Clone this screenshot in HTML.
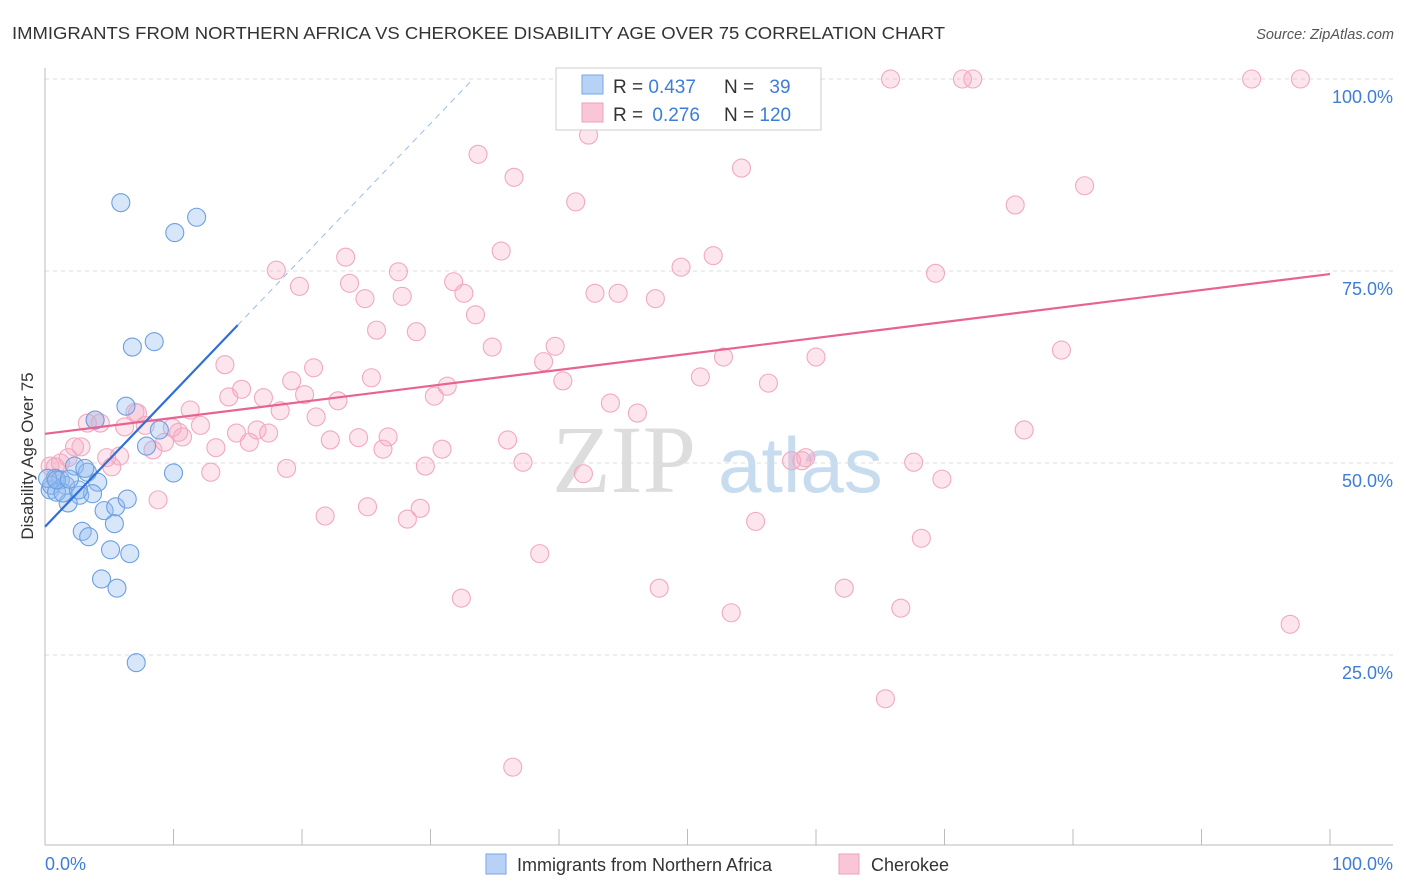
<!DOCTYPE html>
<html><head><meta charset="utf-8"><style>
body{margin:0;background:#fff;font-family:"Liberation Sans",sans-serif;}
svg{display:block}
</style></head><body>
<svg id="chart" width="1406" height="892">
<text x="12" y="39" font-size="17.5" fill="#333" textLength="933" lengthAdjust="spacingAndGlyphs">IMMIGRANTS FROM NORTHERN AFRICA VS CHEROKEE DISABILITY AGE OVER 75 CORRELATION CHART</text>
<text x="1394" y="39" font-size="14.5" fill="#555" font-style="italic" text-anchor="end">Source: ZipAtlas.com</text>
<g>
<text x="552" y="492" font-size="96" font-family="Liberation Serif,serif" fill="#ddd">ZIP</text>
<text x="718" y="492" font-size="78" fill="#c8dcf0">atlas</text>
</g>
<g id="grid"></g>
<g id="axes"></g>
<g id="pts"></g>
<g id="trend"></g>
<text x="33" y="456" font-size="17" fill="#333" text-anchor="middle" transform="rotate(-90 33 456)">Disability Age Over 75</text>
<text x="45" y="870" font-size="18" fill="#3d7dd8">0.0%</text>
<text x="1393" y="870" font-size="18" fill="#3d7dd8" text-anchor="end">100.0%</text>
<g>
<rect x="556" y="68" width="265" height="62" fill="#fff" stroke="#ccc"/>
<rect x="582" y="75" width="21" height="19" fill="#b8d2f5" stroke="#7aa6e6"/>
<rect x="582" y="103" width="21" height="19" fill="#f9c6d6" stroke="#f0a0bb"/>
<text x="613" y="93" font-size="19" fill="#333">R = <tspan fill="#3d7dd8">0.437</tspan></text>
<text x="724" y="93" font-size="19" fill="#333">N = <tspan fill="#3d7dd8" dx="10">39</tspan></text>
<text x="613" y="121" font-size="19" fill="#333">R = <tspan fill="#3d7dd8" dx="4">0.276</tspan></text>
<text x="724" y="121" font-size="19" fill="#333">N = <tspan fill="#3d7dd8">120</tspan></text>
</g>
<g>
<rect x="486" y="854" width="20" height="20" fill="#b8d2f5" stroke="#7aa6e6"/>
<text x="517" y="871" font-size="18" fill="#333">Immigrants from Northern Africa</text>
<rect x="839" y="854" width="20" height="20" fill="#f9c6d6" stroke="#f0a0bb"/>
<text x="871" y="871" font-size="18" fill="#333">Cherokee</text>
</g>
</svg>
<script>
const blueX=[5.9,10.1,11.8,6.8,8.5,6.3,8.9,7.9,10.0,0.8,1.2,0.4,1.6,2.3,3.3,4.1,2.7,3.7,1.8,4.6,5.5,6.4,2.9,3.4,5.4,5.1,6.6,4.4,5.6,7.1,0.5,0.2,0.9,1.4,2.6,3.9,0.9,1.9,3.1];
const blueY=[83.9,80.0,82.0,65.1,65.8,57.4,54.3,52.2,48.7,48.0,47.8,46.5,47.1,49.6,48.8,47.5,45.8,46.0,44.8,43.8,44.3,45.3,41.1,40.4,42.1,38.7,38.2,34.9,33.7,24.0,47.1,48.0,46.2,46.1,46.5,55.6,47.8,47.9,49.3];
const pinkX=[3.9,4.3,3.3,2.3,2.8,1.8,1.2,0.8,0.4,4.8,5.2,5.8,6.2,7.2,7.0,7.8,8.4,8.8,9.3,9.9,10.4,10.7,11.3,12.1,12.9,13.3,14.0,14.3,14.9,15.3,15.9,16.5,17.0,17.4,18.0,18.3,18.8,19.2,19.8,20.2,20.9,21.1,21.8,22.2,22.8,23.4,23.7,24.4,24.9,25.1,25.4,25.8,26.3,26.7,27.5,27.8,28.2,28.9,29.2,29.6,30.3,30.9,31.3,31.8,32.6,32.4,33.5,33.7,34.8,35.5,36.0,36.5,37.2,36.4,38.5,38.8,39.7,40.3,41.3,41.9,42.3,42.8,44.0,44.6,46.1,47.5,47.8,49.5,51.0,52.0,52.8,53.4,54.2,55.3,56.3,58.1,58.9,59.2,60.0,62.2,65.4,65.8,66.6,67.6,68.2,69.3,69.8,71.4,72.2,75.5,76.2,79.1,80.9,93.9,96.9,97.7,47.9,52.2,43.0,45.7];
const pinkY=[55.6,55.2,55.2,52.1,52.1,50.7,50.0,49.5,49.6,50.7,49.5,50.9,54.7,56.5,56.6,54.9,51.7,45.2,52.7,54.6,54.0,53.4,56.9,54.9,48.8,52.0,62.8,58.6,53.9,59.6,52.7,54.3,58.5,53.9,75.1,56.8,49.3,60.7,73.0,58.9,62.4,56.0,43.1,53.0,58.1,76.8,73.4,53.3,71.4,44.3,61.1,67.3,51.8,53.4,74.9,71.7,42.7,67.1,44.1,49.6,58.7,51.8,60.0,73.6,72.1,32.4,69.3,90.2,65.1,77.6,53.0,87.2,50.1,10.4,38.2,63.2,65.2,60.7,84.0,48.6,92.7,72.1,57.8,72.1,56.5,71.4,33.7,75.5,61.2,77.0,63.8,30.5,88.4,42.4,60.4,50.3,50.3,50.7,63.8,33.7,19.3,100,31.1,50.1,40.2,74.7,47.9,100,100,83.6,54.3,64.7,86.1,100,29.0,100,100,100,100,100];
const yTicks=[25,50,75,100];
const yTickLabels=["25.0%","50.0%","75.0%","100.0%"];
const xTicks=[0,10,20,30,40,50,60,70,80,90,100];
const blueTrend=[41.7,1.75];
const pinkTrend=[53.8,0.208];

const NS="http://www.w3.org/2000/svg";
const sx=v=>45+v*12.85, sy=v=>847-v*7.68;
function mk(tag,attrs,parent){const e=document.createElementNS(NS,tag);for(const k in attrs)e.setAttribute(k,attrs[k]);parent.appendChild(e);return e;}
const grid=document.getElementById('grid'),axes=document.getElementById('axes');
yTicks.forEach((t,i)=>{
  const l=mk('line',{x1:45,x2:1393,y1:sy(t),y2:sy(t),stroke:'#ddd','stroke-dasharray':'4,4'},grid);
  
  
  const tx=mk('text',{x:1393,y:sy(t)+24,'font-size':18,fill:'#3d7dd8','text-anchor':'end'},grid);
  tx.textContent=yTickLabels[i];
  
  
});
const ax=mk('line',{x1:45,x2:45,y1:68,y2:845,stroke:'#bbb'},axes);


const bx=mk('line',{x1:45,x2:1393,y1:845,y2:845,stroke:'#bbb'},axes);


xTicks.forEach(t=>{
  const l=mk('line',{x1:sx(t),x2:sx(t),y1:829,y2:845,stroke:'#bbb'},axes);
  
  
});
const pts=document.getElementById('pts');
pinkX.forEach((x,i)=>{
  const c=mk('circle',{cx:sx(x),cy:sy(pinkY[i]),r:9,fill:'rgba(246,170,196,0.3)',stroke:'#f2a8c0','stroke-width':1.1},pts);
  
  
});
blueX.forEach((x,i)=>{
  const c=mk('circle',{cx:sx(x),cy:sy(blueY[i]),r:9,fill:'rgba(150,190,240,0.38)',stroke:'#6b9fe3','stroke-width':1.1},pts);
  
  
});
const tr=document.getElementById('trend');
const pl=mk('line',{x1:sx(0),y1:sy(pinkTrend[0]),x2:sx(100),y2:sy(pinkTrend[0]+pinkTrend[1]*100),stroke:'#e8638f','stroke-width':2.2},tr);


const xEnd=(100-blueTrend[0])/blueTrend[1];
const bl=mk('line',{x1:sx(0),y1:sy(blueTrend[0]),x2:sx(15),y2:sy(blueTrend[0]+blueTrend[1]*15),stroke:'#2f6fd6','stroke-width':2.2},tr);


const bd=mk('line',{x1:sx(15),y1:sy(blueTrend[0]+blueTrend[1]*15),x2:sx(xEnd),y2:sy(100),stroke:'#9bbbe8','stroke-width':1,'stroke-dasharray':'6,5'},tr);


</script>
</body></html>
